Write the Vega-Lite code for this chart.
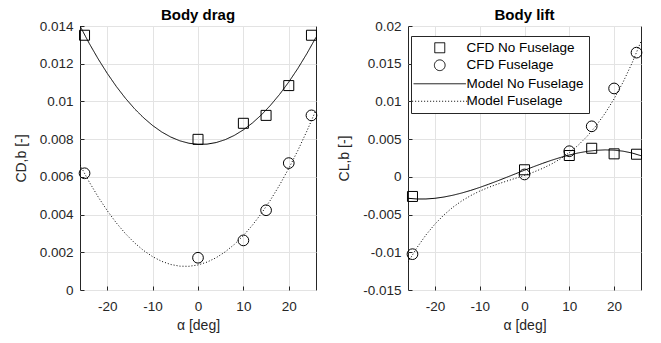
{
  "$schema": "https://vega.github.io/schema/vega-lite/v6.json",
  "padding": {"left": 13, "top": 7, "right": 5, "bottom": 5},
  "background": "white",
  "datasets": {
    "drag": [
      {"series": "CFD No Fuselage", "alpha": -25, "c": 0.01351},
      {"series": "CFD No Fuselage", "alpha": 0, "c": 0.00799},
      {"series": "CFD No Fuselage", "alpha": 10, "c": 0.00884},
      {"series": "CFD No Fuselage", "alpha": 15, "c": 0.00926},
      {"series": "CFD No Fuselage", "alpha": 20, "c": 0.01084},
      {"series": "CFD No Fuselage", "alpha": 25, "c": 0.01351},
      {"series": "CFD Fuselage", "alpha": -25, "c": 0.00619},
      {"series": "CFD Fuselage", "alpha": 0, "c": 0.00171},
      {"series": "CFD Fuselage", "alpha": 10, "c": 0.00263},
      {"series": "CFD Fuselage", "alpha": 15, "c": 0.00423},
      {"series": "CFD Fuselage", "alpha": 20, "c": 0.00673},
      {"series": "CFD Fuselage", "alpha": 25, "c": 0.00926},
      {"series": "Model No Fuselage", "alpha": -26, "c": 0.013998},
      {"series": "Model No Fuselage", "alpha": -24, "c": 0.013091},
      {"series": "Model No Fuselage", "alpha": -22, "c": 0.012255},
      {"series": "Model No Fuselage", "alpha": -20, "c": 0.01149},
      {"series": "Model No Fuselage", "alpha": -18, "c": 0.010795},
      {"series": "Model No Fuselage", "alpha": -16, "c": 0.010171},
      {"series": "Model No Fuselage", "alpha": -14, "c": 0.009617},
      {"series": "Model No Fuselage", "alpha": -12, "c": 0.009135},
      {"series": "Model No Fuselage", "alpha": -10, "c": 0.008723},
      {"series": "Model No Fuselage", "alpha": -8, "c": 0.008381},
      {"series": "Model No Fuselage", "alpha": -6, "c": 0.008111},
      {"series": "Model No Fuselage", "alpha": -4, "c": 0.007911},
      {"series": "Model No Fuselage", "alpha": -2, "c": 0.007782},
      {"series": "Model No Fuselage", "alpha": 0, "c": 0.007724},
      {"series": "Model No Fuselage", "alpha": 2, "c": 0.007736},
      {"series": "Model No Fuselage", "alpha": 4, "c": 0.007819},
      {"series": "Model No Fuselage", "alpha": 6, "c": 0.007973},
      {"series": "Model No Fuselage", "alpha": 8, "c": 0.008198},
      {"series": "Model No Fuselage", "alpha": 10, "c": 0.008493},
      {"series": "Model No Fuselage", "alpha": 12, "c": 0.008859},
      {"series": "Model No Fuselage", "alpha": 14, "c": 0.009295},
      {"series": "Model No Fuselage", "alpha": 16, "c": 0.009803},
      {"series": "Model No Fuselage", "alpha": 18, "c": 0.010381},
      {"series": "Model No Fuselage", "alpha": 20, "c": 0.01103},
      {"series": "Model No Fuselage", "alpha": 22, "c": 0.011749},
      {"series": "Model No Fuselage", "alpha": 24, "c": 0.01254},
      {"series": "Model No Fuselage", "alpha": 26, "c": 0.013401},
      {"series": "Model Fuselage", "alpha": -26, "c": 0.006632},
      {"series": "Model Fuselage", "alpha": -24, "c": 0.005744},
      {"series": "Model Fuselage", "alpha": -22, "c": 0.004936},
      {"series": "Model Fuselage", "alpha": -20, "c": 0.004208},
      {"series": "Model Fuselage", "alpha": -18, "c": 0.00356},
      {"series": "Model Fuselage", "alpha": -16, "c": 0.002992},
      {"series": "Model Fuselage", "alpha": -14, "c": 0.002504},
      {"series": "Model Fuselage", "alpha": -12, "c": 0.002096},
      {"series": "Model Fuselage", "alpha": -10, "c": 0.001768},
      {"series": "Model Fuselage", "alpha": -8, "c": 0.00152},
      {"series": "Model Fuselage", "alpha": -6, "c": 0.001352},
      {"series": "Model Fuselage", "alpha": -4, "c": 0.001264},
      {"series": "Model Fuselage", "alpha": -2, "c": 0.001256},
      {"series": "Model Fuselage", "alpha": 0, "c": 0.001328},
      {"series": "Model Fuselage", "alpha": 2, "c": 0.00148},
      {"series": "Model Fuselage", "alpha": 4, "c": 0.001712},
      {"series": "Model Fuselage", "alpha": 6, "c": 0.002024},
      {"series": "Model Fuselage", "alpha": 8, "c": 0.002416},
      {"series": "Model Fuselage", "alpha": 10, "c": 0.002888},
      {"series": "Model Fuselage", "alpha": 12, "c": 0.00344},
      {"series": "Model Fuselage", "alpha": 14, "c": 0.004072},
      {"series": "Model Fuselage", "alpha": 16, "c": 0.004784},
      {"series": "Model Fuselage", "alpha": 18, "c": 0.005576},
      {"series": "Model Fuselage", "alpha": 20, "c": 0.006448},
      {"series": "Model Fuselage", "alpha": 22, "c": 0.0074},
      {"series": "Model Fuselage", "alpha": 24, "c": 0.008432},
      {"series": "Model Fuselage", "alpha": 26, "c": 0.009544}
    ],
    "lift": [
      {"series": "CFD No Fuselage", "alpha": -25, "c": -0.0026},
      {"series": "CFD No Fuselage", "alpha": 0, "c": 0.00094},
      {"series": "CFD No Fuselage", "alpha": 10, "c": 0.00283},
      {"series": "CFD No Fuselage", "alpha": 15, "c": 0.00379},
      {"series": "CFD No Fuselage", "alpha": 20, "c": 0.00305},
      {"series": "CFD No Fuselage", "alpha": 25, "c": 0.00300},
      {"series": "CFD Fuselage", "alpha": -25, "c": -0.01025},
      {"series": "CFD Fuselage", "alpha": 0, "c": 0.00032},
      {"series": "CFD Fuselage", "alpha": 10, "c": 0.0034},
      {"series": "CFD Fuselage", "alpha": 15, "c": 0.0067},
      {"series": "CFD Fuselage", "alpha": 20, "c": 0.01172},
      {"series": "CFD Fuselage", "alpha": 25, "c": 0.01647},
      {"series": "Model No Fuselage", "alpha": -26, "c": -0.002842},
      {"series": "Model No Fuselage", "alpha": -24, "c": -0.002935},
      {"series": "Model No Fuselage", "alpha": -22, "c": -0.002933},
      {"series": "Model No Fuselage", "alpha": -20, "c": -0.002844},
      {"series": "Model No Fuselage", "alpha": -18, "c": -0.002676},
      {"series": "Model No Fuselage", "alpha": -16, "c": -0.002439},
      {"series": "Model No Fuselage", "alpha": -14, "c": -0.002143},
      {"series": "Model No Fuselage", "alpha": -12, "c": -0.001795},
      {"series": "Model No Fuselage", "alpha": -10, "c": -0.001403},
      {"series": "Model No Fuselage", "alpha": -8, "c": -0.000978},
      {"series": "Model No Fuselage", "alpha": -6, "c": -0.000529},
      {"series": "Model No Fuselage", "alpha": -4, "c": -0.0000635},
      {"series": "Model No Fuselage", "alpha": -2, "c": 0.000409},
      {"series": "Model No Fuselage", "alpha": 0, "c": 0.00088},
      {"series": "Model No Fuselage", "alpha": 2, "c": 0.00134},
      {"series": "Model No Fuselage", "alpha": 4, "c": 0.001781},
      {"series": "Model No Fuselage", "alpha": 6, "c": 0.002193},
      {"series": "Model No Fuselage", "alpha": 8, "c": 0.002568},
      {"series": "Model No Fuselage", "alpha": 10, "c": 0.002897},
      {"series": "Model No Fuselage", "alpha": 12, "c": 0.003171},
      {"series": "Model No Fuselage", "alpha": 14, "c": 0.003381},
      {"series": "Model No Fuselage", "alpha": 16, "c": 0.003519},
      {"series": "Model No Fuselage", "alpha": 18, "c": 0.003574},
      {"series": "Model No Fuselage", "alpha": 20, "c": 0.00354},
      {"series": "Model No Fuselage", "alpha": 22, "c": 0.003405},
      {"series": "Model No Fuselage", "alpha": 24, "c": 0.003163},
      {"series": "Model No Fuselage", "alpha": 26, "c": 0.002804},
      {"series": "Model Fuselage", "alpha": -26, "c": -0.011332},
      {"series": "Model Fuselage", "alpha": -24, "c": -0.009382},
      {"series": "Model Fuselage", "alpha": -22, "c": -0.007704},
      {"series": "Model Fuselage", "alpha": -20, "c": -0.00627},
      {"series": "Model Fuselage", "alpha": -18, "c": -0.005057},
      {"series": "Model Fuselage", "alpha": -16, "c": -0.004037},
      {"series": "Model Fuselage", "alpha": -14, "c": -0.003187},
      {"series": "Model Fuselage", "alpha": -12, "c": -0.00248},
      {"series": "Model Fuselage", "alpha": -10, "c": -0.00189},
      {"series": "Model Fuselage", "alpha": -8, "c": -0.001392},
      {"series": "Model Fuselage", "alpha": -6, "c": -0.000959},
      {"series": "Model Fuselage", "alpha": -4, "c": -0.000567},
      {"series": "Model Fuselage", "alpha": -2, "c": -0.000189},
      {"series": "Model Fuselage", "alpha": 0, "c": 0.0002},
      {"series": "Model Fuselage", "alpha": 2, "c": 0.000626},
      {"series": "Model Fuselage", "alpha": 4, "c": 0.001114},
      {"series": "Model Fuselage", "alpha": 6, "c": 0.001691},
      {"series": "Model Fuselage", "alpha": 8, "c": 0.00238},
      {"series": "Model Fuselage", "alpha": 10, "c": 0.00321},
      {"series": "Model Fuselage", "alpha": 12, "c": 0.004204},
      {"series": "Model Fuselage", "alpha": 14, "c": 0.005391},
      {"series": "Model Fuselage", "alpha": 16, "c": 0.006793},
      {"series": "Model Fuselage", "alpha": 18, "c": 0.008437},
      {"series": "Model Fuselage", "alpha": 20, "c": 0.01035},
      {"series": "Model Fuselage", "alpha": 22, "c": 0.012556},
      {"series": "Model Fuselage", "alpha": 24, "c": 0.015082},
      {"series": "Model Fuselage", "alpha": 26, "c": 0.017952}
    ]
  },
  "spacing": 92,
  "bounds": "flush",
  "resolve": {
    "scale": {"shape": "independent", "size": "independent", "strokeDash": "independent"},
    "legend": {"shape": "independent", "size": "independent", "strokeDash": "independent"}
  },
  "hconcat": [
    {
      "width": 236,
      "height": 264,
      "title": {"text": "Body drag", "frame": "group"},
      "data": {"name": "drag"},
      "layer": [
        {
          "transform": [{"filter": "indexof(datum.series, 'Model') === 0"}],
          "mark": {"type": "line", "color": "black", "strokeWidth": 1, "clip": true},
          "encoding": {
            "x": {"field": "alpha", "type": "quantitative", "scale": {"domain": [-26, 26], "nice": false},
              "axis": {"title": "α [deg]", "values": [-20, -10, 0, 10, 20], "tickCount": 12, "labelOverlap": false, "labelExpr": "replace(format(datum.value, '~g'), '−', '-')"}},
            "y": {"field": "c", "type": "quantitative", "scale": {"domain": [0, 0.014], "nice": false},
              "axis": {"title": "CD,b [-]", "values": [0, 0.002, 0.004, 0.006, 0.008, 0.01, 0.012, 0.014], "tickCount": 12, "labelOverlap": false, "labelFlush": false, "format": "~g"}},
            "detail": {"field": "series"},
            "strokeDash": {"field": "series", "type": "nominal",
              "scale": {"domain": ["CFD No Fuselage", "CFD Fuselage", "Model No Fuselage", "Model Fuselage"], "range": [[1, 0], [1, 0], [1, 0], [1, 2]]},
              "legend": null}
          }
        },
        {
          "transform": [{"filter": "indexof(datum.series, 'CFD') === 0"}],
          "mark": {"type": "point", "filled": false, "color": "black", "strokeWidth": 1, "opacity": 1},
          "encoding": {
            "x": {"field": "alpha", "type": "quantitative"},
            "y": {"field": "c", "type": "quantitative"},
            "shape": {"field": "series", "type": "nominal",
              "scale": {"domain": ["CFD No Fuselage", "CFD Fuselage", "Model No Fuselage", "Model Fuselage"], "range": ["square", "circle", "M-4.6,0H4.6", "M-4.6,0H4.6"]},
              "legend": null},
            "size": {"field": "series", "type": "nominal",
              "scale": {"domain": ["CFD No Fuselage", "CFD Fuselage", "Model No Fuselage", "Model Fuselage"], "range": [100, 144, 100, 100]},
              "legend": null}
          }
        }
      ]
    },
    {
      "width": 233,
      "height": 264,
      "title": {"text": "Body lift", "frame": "group"},
      "data": {"name": "lift"},
      "layer": [
        {
          "transform": [{"filter": "indexof(datum.series, 'Model') === 0"}],
          "mark": {"type": "line", "color": "black", "strokeWidth": 1, "clip": true},
          "encoding": {
            "x": {"field": "alpha", "type": "quantitative", "scale": {"domain": [-26, 26], "nice": false},
              "axis": {"title": "α [deg]", "values": [-20, -10, 0, 10, 20], "tickCount": 12, "labelOverlap": false, "labelExpr": "replace(format(datum.value, '~g'), '−', '-')"}},
            "y": {"field": "c", "type": "quantitative", "scale": {"domain": [-0.015, 0.02], "nice": false},
              "axis": {"title": "CL,b [-]", "values": [-0.015, -0.01, -0.005, 0, 0.005, 0.01, 0.015, 0.02], "tickCount": 12, "labelOverlap": false, "labelFlush": false, "labelExpr": "replace(format(datum.value, '~g'), '−', '-')"}},
            "detail": {"field": "series"},
            "strokeDash": {"field": "series", "type": "nominal",
              "scale": {"domain": ["CFD No Fuselage", "CFD Fuselage", "Model No Fuselage", "Model Fuselage"], "range": [[1, 0], [1, 0], [1, 0], [1, 2]]},
              "legend": {"title": null}}
          }
        },
        {
          "transform": [{"filter": "indexof(datum.series, 'CFD') === 0"}],
          "mark": {"type": "point", "filled": false, "color": "black", "strokeWidth": 1, "opacity": 1},
          "encoding": {
            "x": {"field": "alpha", "type": "quantitative"},
            "y": {"field": "c", "type": "quantitative"},
            "shape": {"field": "series", "type": "nominal",
              "scale": {"domain": ["CFD No Fuselage", "CFD Fuselage", "Model No Fuselage", "Model Fuselage"], "range": ["square", "circle", "M-4.6,0H4.6", "M-4.6,0H4.6"]},
              "legend": {"title": null}},
            "size": {"field": "series", "type": "nominal",
              "scale": {"domain": ["CFD No Fuselage", "CFD Fuselage", "Model No Fuselage", "Model Fuselage"], "range": [100, 144, 100, 100]},
              "legend": {"title": null}}
          }
        }
      ]
    }
  ],
  "config": {
    "font": "Liberation Sans",
    "view": {"stroke": "#262626", "strokeWidth": 1},
    "title": {"fontSize": 15, "fontWeight": "bold", "color": "black", "offset": -4, "font": "Liberation Sans"},
    "axis": {
      "domain": false,
      "grid": true,
      "gridColor": "#e3e3e3",
      "gridWidth": 1,
      "tickColor": "#262626",
      "tickSize": -4,
      "labelOverlap": false,
      "labelFlush": false,
      "labelFont": "Liberation Sans",
      "labelFontSize": 13.5,
      "labelColor": "#262626",
      "titleFont": "Liberation Sans",
      "titleFontSize": 14,
      "titleFontWeight": "normal",
      "titleColor": "#262626"
    },
    "axisY": {"labelPadding": 11, "titlePadding": 11},
    "axisX": {"labelPadding": 13, "titlePadding": 6},
    "legend": {
      "orient": "none",
      "legendX": 3,
      "legendY": 10,
      "strokeColor": "#262626",
      "fillColor": "white",
      "padding": 5,
      "labelFont": "Liberation Sans",
      "labelFontSize": 13.5,
      "labelColor": "black",
      "symbolStrokeColor": "black",
      "symbolFillColor": "transparent",
      "symbolStrokeWidth": 1,
      "symbolOffset": 17,
      "labelOffset": 20,
      "rowPadding": 2.5
    }
  }
}
